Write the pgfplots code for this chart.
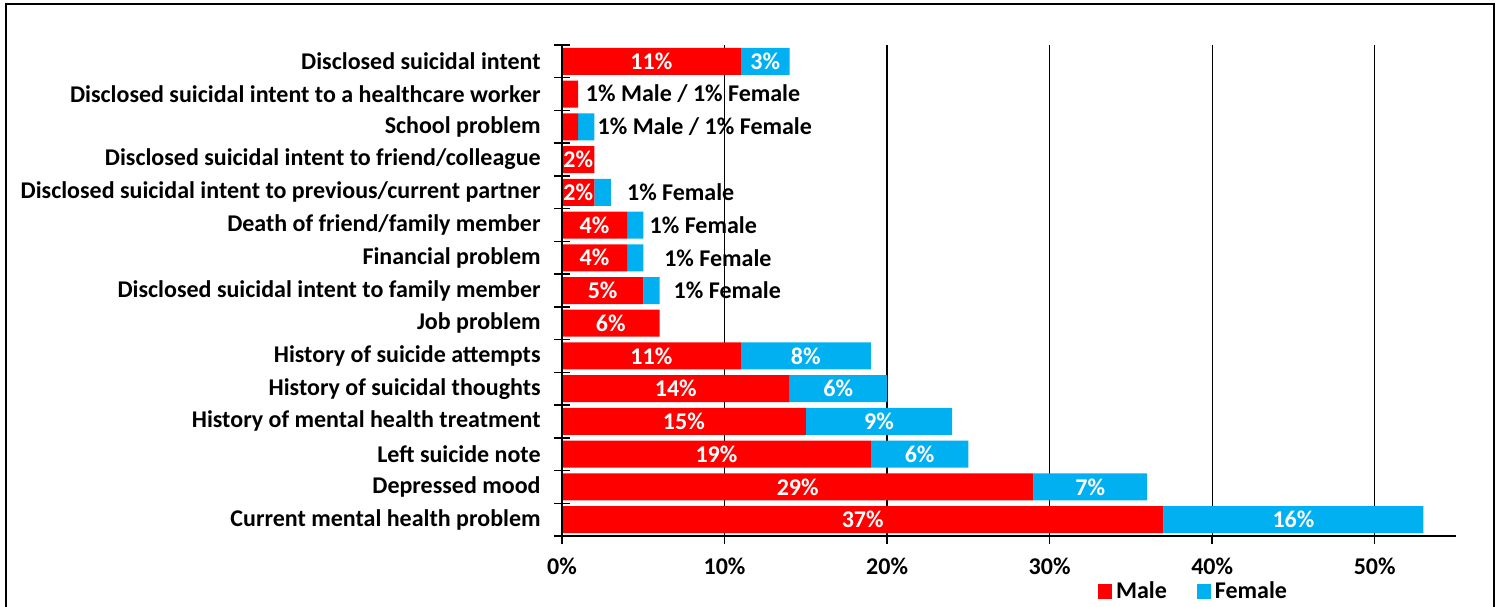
\documentclass[border=0pt]{standalone}
\usepackage{fontspec}
\setmainfont{Carlito}
\usepackage{pgfplots}
\pgfplotsset{compat=1.18}
\definecolor{male}{HTML}{FF0000}
\definecolor{female}{HTML}{00B0F0}
\tikzset{inl/.style={text=white, inner sep=0pt}, outl/.style={text=black, inner sep=0pt, anchor=west}}
\begin{document}
\begin{tikzpicture}[font=\fontsize{12}{14}\selectfont\bfseries]
\useasboundingbox (-281pt,-35pt) rectangle (469.5pt,268pt);
\draw[line width=1pt] (-278pt,-40pt) -- (-278pt,266pt) -- (466pt,266pt) -- (466pt,-40pt);
\begin{axis}[
  at={(0,0)}, anchor=south west,
  scale only axis, width=447pt, height=245.5pt,
  xbar stacked, bar width=13.5pt,
  xmin=0, xmax=55, ymin=-0.5, ymax=14.5,
  axis x line*=bottom, axis y line*=left,
  x axis line style={line width=1pt},
  y axis line style={line width=0.75pt},
  xtick={0,10,20,30,40,50},
  xticklabels={0\%,10\%,20\%,30\%,40\%,50\%},
  xmajorgrids, grid style={black, line width=0.6pt},
  tick align=outside, major tick length=4pt,
  xtick style={black, line width=0.75pt},
  xticklabel style={anchor=north, inner sep=0pt, yshift=-7pt},
  ytick={0,...,14},
  yticklabels={Current mental health problem, Depressed mood, Left suicide note, History of mental health treatment, History of suicidal thoughts, History of suicide attempts, Job problem, Disclosed suicidal intent to family member, Financial problem, Death of friend/family member, Disclosed suicidal intent to previous/current partner, Disclosed suicidal intent to friend/colleague, School problem, Disclosed suicidal intent to a healthcare worker, Disclosed suicidal intent},
  ytick style={draw=none},
  yticklabel style={anchor=east, inner sep=0pt, xshift=-6.5pt},
  legend columns=2,
  legend style={draw=none, fill=none, at={(rel axis cs:0.5925,-0.076)}, anchor=north west,
    /tikz/every even column/.append style={column sep=13pt}},
  legend image code/.code={\fill[#1] (-2pt,-3.75pt) rectangle (5pt,3.75pt);},
]
\addplot[fill=male, draw=none] coordinates {(37,0) (29,1) (19,2) (15,3) (14,4) (11,5) (6,6) (5,7) (4,8) (4,9) (2,10) (2,11) (1,12) (1,13) (11,14)};
\addplot[fill=female, draw=none] coordinates {(16,0) (7,1) (6,2) (9,3) (6,4) (8,5) (0,6) (1,7) (1,8) (1,9) (1,10) (0,11) (1,12) (0,13) (3,14)};
\legend{Male, Female}
\end{axis}
\begin{scope}[x=8.127273pt, y=16.366667pt, yshift=8.183333pt]
\node[inl] at (5.5,14) {11\%}; \node[inl] at (12.5,14) {3\%};
\node[inl] at (1,11) {2\%};
\node[inl] at (1,10) {2\%};
\node[inl] at (2,9) {4\%};
\node[inl] at (2,8) {4\%};
\node[inl] at (2.5,7) {5\%};
\node[inl] at (3,6) {6\%};
\node[inl] at (5.5,5) {11\%}; \node[inl] at (15,5) {8\%};
\node[inl] at (7,4) {14\%}; \node[inl] at (17,4) {6\%};
\node[inl] at (7.5,3) {15\%}; \node[inl] at (19.5,3) {9\%};
\node[inl] at (9.5,2) {19\%}; \node[inl] at (22,2) {6\%};
\node[inl] at (14.5,1) {29\%}; \node[inl] at (32.5,1) {7\%};
\node[inl] at (18.5,0) {37\%}; \node[inl] at (45,0) {16\%};
\node[outl] at (1.45,13) {1\% Male / 1\% Female};
\node[outl] at (2.17,12) {1\% Male / 1\% Female};
\node[outl] at (3.98,10) {1\% Female};
\node[outl] at (5.37,9) {1\% Female};
\node[outl] at (6.27,8) {1\% Female};
\node[outl] at (6.85,7) {1\% Female};
\foreach \k in {-0.5,0.5,...,14.5} {\draw[black, line width=0.75pt] (0,\k) ++(-4pt,0) -- ++(8pt,0);}
\draw[black, line width=0.75pt] (0,-0.5) -- (0,14.5);
\end{scope}
\end{tikzpicture}
\end{document}
